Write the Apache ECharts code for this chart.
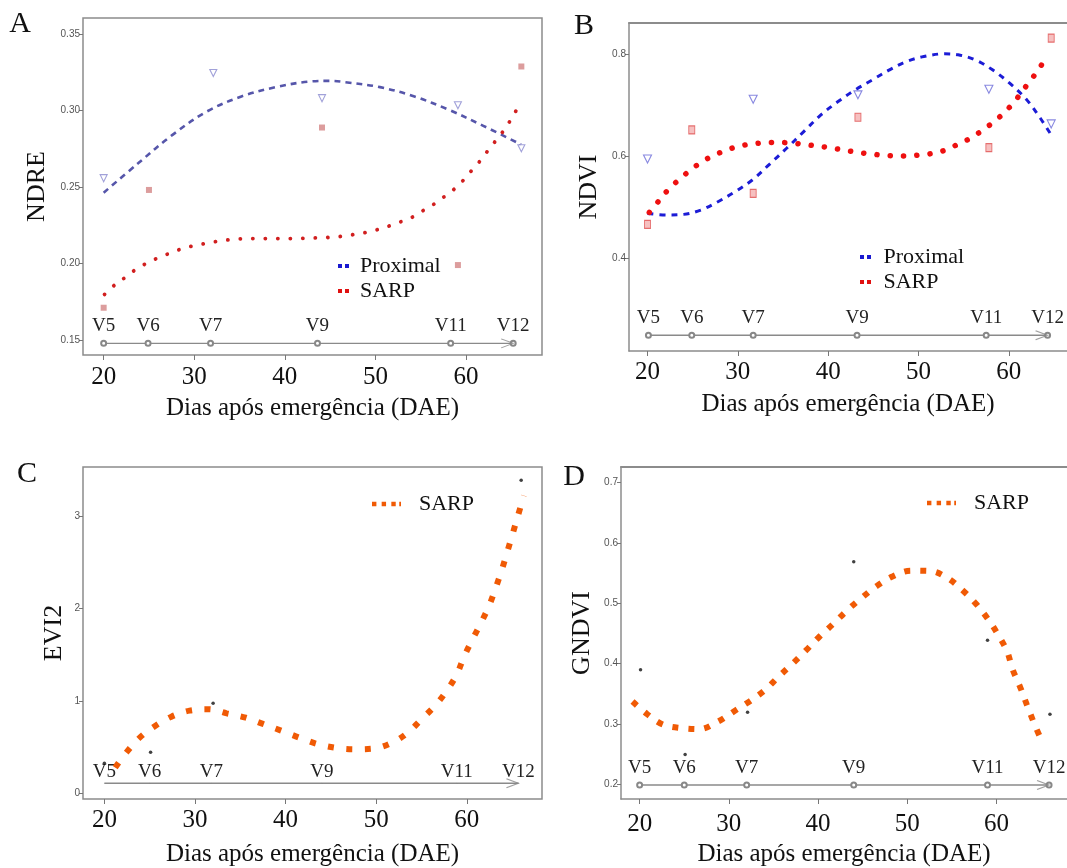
<!DOCTYPE html>
<html><head><meta charset="utf-8">
<script src="https://cdn.jsdelivr.net/npm/echarts@6/dist/echarts.min.js"></script>
<style>html,body{margin:0;padding:0;background:#fff;}#chart{width:1067px;height:868px;}</style>
</head><body><div id="chart"></div>
<script>
// ---------- shared labels ----------
const xTitle = 'Dias após emergência (DAE)';
const stageNames = ['V5', 'V6', 'V7', 'V9', 'V11', 'V12'];
const xTicks = [20, 30, 40, 50, 60];

// ---------- Panel A : NDRE ----------
const ndreTicks = [0.15, 0.20, 0.25, 0.30, 0.35];
const ndreProxObsX = [20, 32.1, 44.1, 59.1, 66.1];
const ndreProxObsY = [0.2558, 0.3245, 0.3081, 0.3035, 0.2754];
const ndreSarpObsX = [20, 25, 44.1, 59.1, 66.1];
const ndreSarpObsY = [0.1711, 0.2481, 0.2889, 0.1990, 0.3288];
const ndreProxFitX = [20, 23.8, 27.6, 31.4, 35.2, 39.0, 42.8, 45.1, 46.6, 50.5, 54.3, 58.1, 61.9, 66.0];
const ndreProxFitY = [0.2463, 0.2655, 0.2841, 0.2994, 0.3092, 0.3153, 0.3190, 0.3194, 0.3186, 0.3153, 0.3092, 0.3005, 0.2900, 0.2780];
const ndreSarpFitX = [20.1, 21.3, 22.5, 23.7, 24.9, 26.3, 27.6, 28.9, 30.4, 31.7, 33.1, 34.6, 36.0, 37.3, 38.8, 40.2, 41.5, 42.9, 44.3, 45.7, 47.1, 48.5, 49.8, 51.2, 52.5, 53.9, 55.2, 56.5, 57.7, 58.8, 59.8, 60.8, 61.8, 62.6, 63.6, 64.4, 65.2, 65.9];
const ndreSarpFitY = [0.1798, 0.1864, 0.1914, 0.1968, 0.2006, 0.2045, 0.2073, 0.2102, 0.2121, 0.2137, 0.2150, 0.2159, 0.2163, 0.2163, 0.2163, 0.2163, 0.2163, 0.2167, 0.2169, 0.2174, 0.2185, 0.2198, 0.2215, 0.2239, 0.2267, 0.2298, 0.2344, 0.2390, 0.2442, 0.2492, 0.2551, 0.2621, 0.2688, 0.2754, 0.2826, 0.2891, 0.2966, 0.3040];
const ndreStageX = [20, 24.9, 31.8, 43.6, 58.3, 65.2];
const ndreStageY = 0.1478;

// ---------- Panel B : NDVI ----------
const ndviTicks = [0.4, 0.6, 0.8];
const ndviProxObsX = [20, 31.7, 43.3, 57.8, 64.7];
const ndviProxObsY = [0.5948, 0.7118, 0.7203, 0.7314, 0.6634];
const ndviSarpObsX = [20, 24.9, 31.7, 43.3, 57.8, 64.7];
const ndviSarpObsY = [0.4667, 0.6516, 0.5275, 0.6765, 0.6170, 0.8314];
const ndviProxFitX = [20, 22.1, 24.0, 25.9, 27.8, 29.7, 31.6, 33.5, 35.4, 37.3, 39.2, 41.1, 43.0, 44.9, 46.8, 48.7, 50.6, 52.9, 54.4, 56.3, 58.2, 60.1, 62.0, 63.5, 64.7];
const ndviProxFitY = [0.4882, 0.4850, 0.4863, 0.4948, 0.5111, 0.5307, 0.5536, 0.5843, 0.6157, 0.6484, 0.6810, 0.7072, 0.7301, 0.7497, 0.7693, 0.7856, 0.7954, 0.8007, 0.7987, 0.7889, 0.7693, 0.7431, 0.7105, 0.6745, 0.6418];
const ndviSarpFitX = [20.2, 21.3, 22.4, 23.7, 25.0, 26.3, 27.7, 29.2, 30.6, 32.1, 33.6, 35.1, 36.5, 38.1, 39.6, 41.0, 42.5, 44.0, 45.4, 46.9, 48.4, 49.9, 51.4, 52.9, 54.3, 55.8, 57.2, 58.6, 59.8, 60.9, 62.0, 63.2, 64.2];
const ndviSarpFitY = [0.4902, 0.5137, 0.5366, 0.5575, 0.5765, 0.5922, 0.6046, 0.6150, 0.6216, 0.6255, 0.6268, 0.6268, 0.6248, 0.6216, 0.6183, 0.6144, 0.6098, 0.6059, 0.6033, 0.6013, 0.6007, 0.6020, 0.6052, 0.6118, 0.6229, 0.6359, 0.6523, 0.6712, 0.6908, 0.7131, 0.7392, 0.7673, 0.7954];
const ndviStageX = [20.1, 24.9, 31.7, 43.2, 57.5, 64.3];
const ndviStageY = 0.2497;

// ---------- Panel C : EVI2 ----------
const evi2Ticks = [0, 1, 2, 3];
const evi2ObsX = [20, 25.1, 32, 66];
const evi2ObsY = [0.325, 0.444, 0.975, 3.39];
const evi2SarpFitX = [21.2, 22.5, 23.9, 25.6, 27.4, 29.4, 31.5, 33.5, 35.6, 37.5, 39.5, 41.5, 43.5, 45.6, 47.6, 49.7, 51.8, 53.5, 55.0, 56.5, 57.8, 58.9, 59.7, 60.6, 61.6, 62.5, 63.2, 63.9, 64.5, 65.1, 65.7, 66.3];
const evi2SarpFitY = [0.278, 0.451, 0.603, 0.729, 0.830, 0.895, 0.910, 0.866, 0.819, 0.751, 0.679, 0.603, 0.534, 0.491, 0.477, 0.484, 0.549, 0.657, 0.801, 0.949, 1.112, 1.289, 1.480, 1.661, 1.852, 2.040, 2.227, 2.430, 2.625, 2.823, 3.025, 3.224];
const evi2StageX = [20, 25, 31.8, 44, 58.9, 65.7];
const evi2StageY = 0.108;

// ---------- Panel D : GNDVI ----------
const gndviTicks = [0.2, 0.3, 0.4, 0.5, 0.6, 0.7];
const gndviObsX = [20.1, 25.1, 32.1, 44, 59, 66];
const gndviObsY = [0.3896, 0.2489, 0.3192, 0.5687, 0.4385, 0.3159];
const gndviSarpFitX = [19.2, 20.8, 22.6, 24.7, 26.7, 28.8, 30.6, 32.4, 34.1, 35.6, 37.2, 38.7, 40.2, 41.8, 43.3, 44.9, 46.6, 48.4, 50.4, 52.6, 54.5, 56.2, 57.7, 59.0, 60.2, 61.2, 61.8, 62.7, 63.4, 64.2, 65.0];
const gndviSarpFitY = [0.3368, 0.3165, 0.2989, 0.2929, 0.2912, 0.3038, 0.3209, 0.3379, 0.3566, 0.3786, 0.4005, 0.4225, 0.4451, 0.4670, 0.4885, 0.5088, 0.5286, 0.5445, 0.5538, 0.5533, 0.5418, 0.5214, 0.4989, 0.4747, 0.4473, 0.4198, 0.3907, 0.3593, 0.3319, 0.3016, 0.2742];
const gndviStageX = [20, 25, 32, 44, 59, 65.9];
const gndviStageY = 0.1984;

// ---------- build ----------
const SERIF = "'Liberation Serif','Times New Roman',serif";
const SANS = "'Liberation Sans',Arial,sans-serif";
const zip = (xs, ys) => xs.map((x, i) => [x, ys[i]]);
const BORDER = '#8c8c8c';

// open: panel cut by the right edge of the figure (no right border)
const panels = [
  { grid: {left: 83, top: 18, width: 459, height: 337}, xr: [17.72, 68.38], yr: [0.1402, 0.3605], open: false,
    yName: 'NDRE', yGap: 33, yTicks: ndreTicks, yDec: 2, xGap: 41, xMargin: 10 },
  { grid: {left: 629, top: 23, width: 438, height: 328}, xr: [17.95, 66.45], yr: [0.2188, 0.861], open: true,
    yName: 'NDVI', yGap: 27, yTicks: ndviTicks, yDec: 1, xGap: 41, xMargin: 9 },
  { grid: {left: 83, top: 467, width: 459, height: 332}, xr: [17.64, 68.3], yr: [-0.062, 3.534], open: false,
    yName: 'EVI2', yGap: 16, yTicks: evi2Ticks, yDec: 0, xGap: 43, xMargin: 9 },
  { grid: {left: 621, top: 467, width: 446, height: 334}, xr: [17.91, 67.91], yr: [0.1753, 0.7257], open: true,
    yName: 'GNDVI', yGap: 26, yTicks: gndviTicks, yDec: 1, xGap: 43, xMargin: 13 }
];

const grids = panels.map(p => Object.assign({show: !p.open, borderColor: BORDER, borderWidth: 1.5, containLabel: false}, p.grid));
const xAxes = panels.map((p, i) => ({
  type: 'value', gridIndex: i, min: p.xr[0], max: p.xr[1], position: 'bottom',
  axisLine: {show: p.open, onZero: false, lineStyle: {color: BORDER, width: 1.5}}, splitLine: {show: false},
  axisTick: {show: true, length: 5, customValues: xTicks, lineStyle: {color: '#777'}},
  axisLabel: {customValues: xTicks, fontFamily: SERIF, fontSize: 25, color: '#111', margin: p.xMargin},
  name: xTitle, nameLocation: 'middle', nameGap: p.xGap,
  nameTextStyle: {fontFamily: SERIF, fontSize: 25, color: '#111'}
}));
// top frame lines for the open panels
panels.forEach((p, i) => {
  if (p.open) xAxes.push({
    type: 'value', gridIndex: i, min: p.xr[0], max: p.xr[1], position: 'top',
    axisLine: {show: true, onZero: false, lineStyle: {color: BORDER, width: 2}},
    axisTick: {show: false}, axisLabel: {show: false}, splitLine: {show: false}
  });
});
const yAxes = panels.map((p, i) => ({
  type: 'value', gridIndex: i, min: p.yr[0], max: p.yr[1], position: 'left',
  axisLine: {show: p.open, onZero: false, lineStyle: {color: BORDER, width: 1.5}}, splitLine: {show: false},
  axisTick: {show: true, length: 4, customValues: p.yTicks, lineStyle: {color: '#777'}},
  axisLabel: {customValues: p.yTicks, fontFamily: SANS, fontSize: 10, color: '#555', margin: 3,
              formatter: v => Number(v).toFixed(p.yDec)},
  name: p.yName, nameLocation: 'middle', nameGap: p.yGap, nameRotate: 90,
  nameTextStyle: {fontFamily: SERIF, fontSize: 26, color: '#111'}
}));

function fit(name, gi, xs, ys, color, width, dash, cap) {
  return {type: 'line', name, xAxisIndex: gi, yAxisIndex: gi, data: zip(xs, ys), smooth: 0.35,
          symbol: 'none', silent: true, z: 3, lineStyle: {color, width, type: dash, cap: cap || 'butt'}};
}
function obs(name, gi, xs, ys, symbol, size, style, rot) {
  return {type: 'scatter', name, xAxisIndex: gi, yAxisIndex: gi, data: zip(xs, ys), symbol,
          symbolSize: size, symbolRotate: rot || 0, itemStyle: style, silent: true, z: 4};
}
function stage(gi, xs, y, circles, labelDist) {
  return [{
    type: 'line', xAxisIndex: gi, yAxisIndex: gi, data: xs.map(x => [x, y]), silent: true, z: 2,
    symbol: circles ? 'emptyCircle' : 'circle', symbolSize: circles ? 5 : 0.1, showAllSymbol: true,
    itemStyle: {color: circles ? '#888' : 'rgba(0,0,0,0)', borderColor: '#888', borderWidth: 1},
    lineStyle: {color: '#8a8a8a', width: 1.4},
    label: {show: true, position: 'top', distance: labelDist, formatter: q => stageNames[q.dataIndex],
            fontFamily: SERIF, fontSize: 19, color: '#222'}
  }, {
    type: 'scatter', xAxisIndex: gi, yAxisIndex: gi, data: [[xs[xs.length - 1], y]], silent: true, z: 2,
    symbol: 'path://M0,0L10,5L0,10', symbolSize: [12, 9], symbolOffset: [-6, 0],
    itemStyle: {color: 'none', borderColor: '#888', borderWidth: 1.2}
  }];
}

const triStyle = c => ({color: 'rgba(255,255,255,0)', borderColor: c, borderWidth: 1.1});
const series = [
  fit('Proximal', 0, ndreProxFitX, ndreProxFitY, '#5656aa', 2.6, [6, 5]),
  fit('SARP', 0, ndreSarpFitX, ndreSarpFitY, '#d11f1f', 3.8, [0.1, 12.4], 'round'),
  obs('Proximal obs', 0, ndreProxObsX, ndreProxObsY, 'triangle', 7, triStyle('#8a8ad0'), 180),
  obs('SARP obs', 0, ndreSarpObsX, ndreSarpObsY, 'rect', 6, {color: '#d38585'}),
  ...stage(0, ndreStageX, ndreStageY, true, 4),

  fit('Proximal', 1, ndviProxFitX, ndviProxFitY, '#1c1cd6', 3, [6, 6]),
  fit('SARP', 1, ndviSarpFitX, ndviSarpFitY, '#ee1010', 5.5, [0.1, 13.2], 'round'),
  obs('Proximal obs', 1, ndviProxObsX, ndviProxObsY, 'triangle', 8, triStyle('#6a6ad8'), 180),
  obs('SARP obs', 1, ndviSarpObsX, ndviSarpObsY, 'rect', [6, 8], {color: '#f4b0b0', borderColor: '#e05050', borderWidth: 1}),
  ...stage(1, ndviStageX, ndviStageY, true, 4),

  fit('SARP', 2, evi2SarpFitX, evi2SarpFitY, '#f05a05', 6, [6, 12.5]),
  obs('EVI2 obs', 2, evi2ObsX, evi2ObsY, 'circle', 3.5, {color: '#111'}),
  ...stage(2, evi2StageX, evi2StageY, false, 1),

  fit('SARP', 3, gndviSarpFitX, gndviSarpFitY, '#f05a05', 6, [6, 10]),
  obs('GNDVI obs', 3, gndviObsX, gndviObsY, 'circle', 3.5, {color: '#111'}),
  ...stage(3, gndviStageX, gndviStageY, true, 4)
];

const twoSq = 'path://M0,0h4v4h-4z M7,0h4v4h-4z';
const dashKey = 'path://M0,0h5v5h-5z M11,0h5v5h-5z M22,0h5v5h-5z M31,0h2v5h-2z';
const legText = {fontFamily: SERIF, fontSize: 22, lineHeight: 22, color: '#111'};
const legends = [
  {left: 338, top: 255, padding: 0, orient: 'vertical', itemGap: 3, itemWidth: 11, itemHeight: 4, icon: twoSq, selectedMode: false,
   textStyle: Object.assign({padding: [0, 0, 0, 6]}, legText),
   data: [{name: 'Proximal', itemStyle: {color: '#1a1ad0', borderWidth: 0}}, {name: 'SARP', itemStyle: {color: '#e01010', borderWidth: 0}}]},
  {left: 860, top: 246, padding: 0, orient: 'vertical', itemGap: 3, itemWidth: 12, itemHeight: 4, icon: twoSq, selectedMode: false,
   textStyle: Object.assign({padding: [0, 0, 0, 7]}, legText),
   data: [{name: 'Proximal', itemStyle: {color: '#1a1ad0', borderWidth: 0}}, {name: 'SARP', itemStyle: {color: '#e01010', borderWidth: 0}}]},
  {left: 372, top: 493, padding: 0, itemWidth: 29, itemHeight: 5, icon: dashKey, selectedMode: false,
   textStyle: Object.assign({padding: [0, 0, 0, 13]}, legText),
   data: [{name: 'SARP', itemStyle: {color: '#f05a05', borderWidth: 0}}]},
  {left: 927, top: 492, padding: 0, itemWidth: 29, itemHeight: 5, icon: dashKey, selectedMode: false,
   textStyle: Object.assign({padding: [0, 0, 0, 13]}, legText),
   data: [{name: 'SARP', itemStyle: {color: '#f05a05', borderWidth: 0}}]}
];

const letterStyle = {fontFamily: SERIF, fontSize: 30, fill: '#111', align: 'center', verticalAlign: 'middle'};
const graphic = [
  {type: 'text', x: 20, y: 24, style: Object.assign({text: 'A'}, letterStyle)},
  {type: 'text', x: 584, y: 26, style: Object.assign({text: 'B'}, letterStyle)},
  {type: 'text', x: 27, y: 474, style: Object.assign({text: 'C'}, letterStyle)},
  {type: 'text', x: 574, y: 477, style: Object.assign({text: 'D'}, letterStyle)}
];

const chart = echarts.init(document.getElementById('chart'), null, {renderer: 'canvas'});
chart.setOption({
  animation: false, backgroundColor: '#fff',
  grid: grids, xAxis: xAxes, yAxis: yAxes, series, legend: legends, graphic
});
</script></body></html>
